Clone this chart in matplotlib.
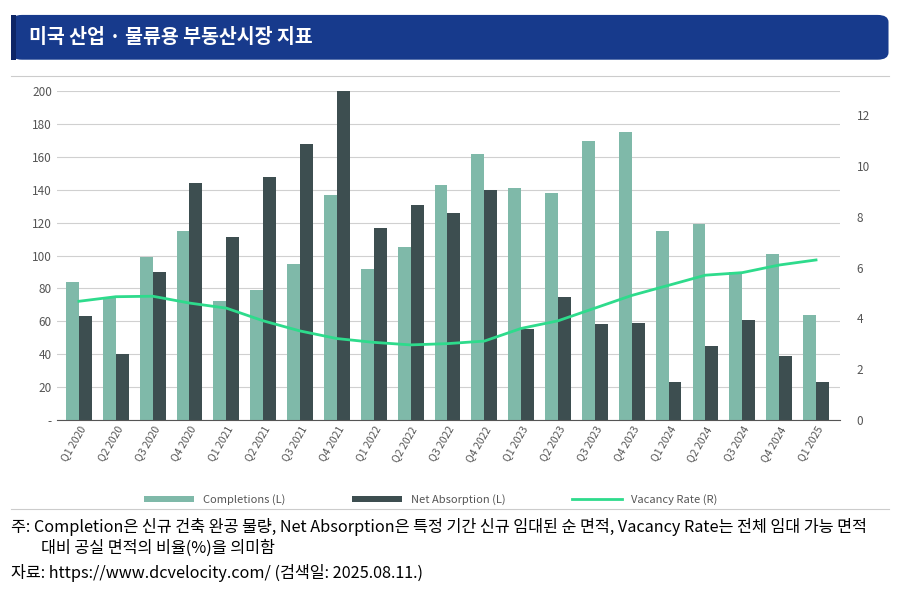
import matplotlib.pyplot as plt
from matplotlib.patches import FancyBboxPatch, Rectangle

plt.rcParams['font.family'] = ['Noto Sans CJK KR', 'DejaVu Sans']

quarters = ["Q1 2020", "Q2 2020", "Q3 2020", "Q4 2020", "Q1 2021", "Q2 2021", "Q3 2021",
            "Q4 2021", "Q1 2022", "Q2 2022", "Q3 2022", "Q4 2022", "Q1 2023", "Q2 2023",
            "Q3 2023", "Q4 2023", "Q1 2024", "Q2 2024", "Q3 2024", "Q4 2024", "Q1 2025"]
completions = [84, 74, 99, 115, 72, 79, 95, 137, 92, 105, 143, 162, 141, 138, 170, 175,
               115, 119, 90, 101, 64]
net_absorption = [63, 40, 90, 144, 111, 148, 168, 200, 117, 131, 126, 140, 55, 75, 58, 59,
                  23, 45, 61, 39, 23]
vacancy = [4.67, 4.85, 4.87, 4.6, 4.4, 3.9, 3.5, 3.2, 3.05, 2.95, 3.0, 3.1, 3.6, 3.9,
           4.4, 4.9, 5.3, 5.7, 5.8, 6.1, 6.3]

fig = plt.figure(figsize=(9.16, 5.97), dpi=100)

# title banner
fig.patches.append(FancyBboxPatch((0.012, 0.9), 0.958, 0.075, boxstyle="round,pad=0,rounding_size=0.012",
                                  transform=fig.transFigure, facecolor="#173a8c", edgecolor="none"))
fig.patches.append(Rectangle((0.012, 0.9), 0.006, 0.075, transform=fig.transFigure,
                             facecolor="#0d2566", edgecolor="none"))
fig.text(0.032, 0.937, "미국 산업 · 물류용 부동산시장 지표", color="white", fontsize=14,
         fontweight="bold", va="center")
fig.add_artist(plt.Line2D([0.012, 0.97], [0.872, 0.872], color="#cccccc", lw=0.8))
fig.add_artist(plt.Line2D([0.012, 0.97], [0.148, 0.148], color="#cccccc", lw=0.8))

ax = fig.add_axes([0.062, 0.297, 0.855, 0.55])
x = list(range(len(quarters)))
w = 0.35
ax.bar([i - w / 2 for i in x], completions, w, color="#7fb9a9", label="Completions (L)")
ax.bar([i + w / 2 for i in x], net_absorption, w, color="#3d4e50", label="Net Absorption (L)")
ax.set_ylim(0, 200)
ax.set_xlim(-0.6, len(x) - 0.35)
ax.set_yticks(range(0, 201, 20))
ax.set_yticklabels(["-"] + [str(v) for v in range(20, 201, 20)])
ax.yaxis.grid(True, color="#d0d0d0", lw=0.8)
ax.set_axisbelow(True)
ax.tick_params(axis="both", length=0, labelsize=8.5, colors="#555555")
ax.set_xticks(x)
ax.set_xticklabels(quarters, rotation=60, ha="right", rotation_mode="anchor", fontsize=7.5)
for s in ["top", "right", "left"]:
    ax.spines[s].set_visible(False)
ax.spines["bottom"].set_color("#555555")

ax2 = ax.twinx()
ax2.plot(x, vacancy, color="#2edb8c", lw=2, label="Vacancy Rate (R)")
ax2.set_ylim(0, 12.95)
ax2.set_yticks(range(0, 13, 2))
ax2.tick_params(axis="y", length=0, labelsize=8.5, colors="#555555", pad=12)
for s in ["top", "right", "left", "bottom"]:
    ax2.spines[s].set_visible(False)

h1, l1 = ax.get_legend_handles_labels()
h2, l2 = ax2.get_legend_handles_labels()
fig.legend(h1 + h2, l1 + l2, loc="center", bbox_to_anchor=(0.47, 0.163), ncol=3, frameon=False,
           fontsize=8, handlelength=4.5, handleheight=0.5, columnspacing=6, labelcolor="#555555")

fig.text(0.012, 0.118, "주: Completion은 신규 건축 완공 물량, Net Absorption은 특정 기간 신규 임대된 순 면적, "
         "Vacancy Rate는 전체 임대 가능 면적", fontsize=11.7, va="center")
fig.text(0.045, 0.081, "대비 공실 면적의 비율(%)을 의미함", fontsize=11.7, va="center")
fig.text(0.012, 0.04, "자료: https://www.dcvelocity.com/ (검색일: 2025.08.11.)", fontsize=11.7, va="center")

fig.savefig("out.png", dpi=100)
